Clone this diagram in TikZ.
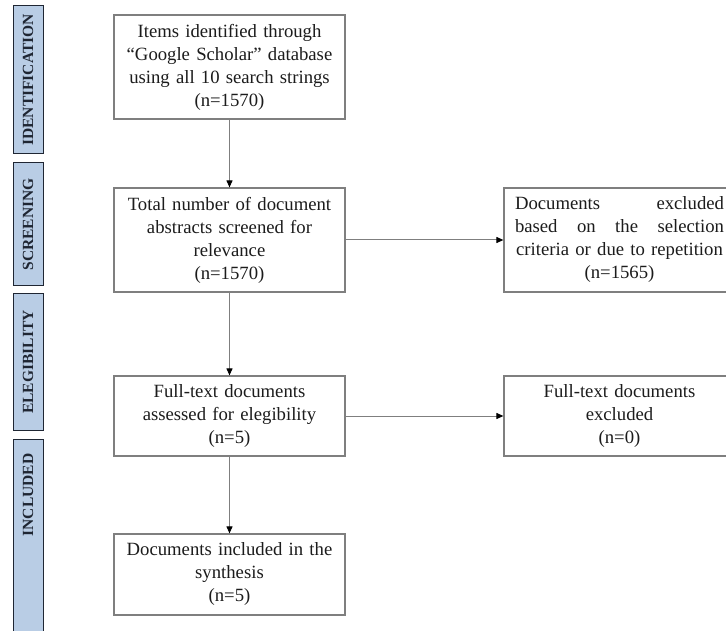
\documentclass[tikz,border=0pt]{standalone}
\usepackage{fontspec}
\setmainfont{Liberation Serif}
\usetikzlibrary{arrows.meta, positioning}
\definecolor{prismaline}{HTML}{7F7F7F}
\definecolor{prismatext}{HTML}{1C1C1C}
\definecolor{stagefill}{HTML}{B9CDE5}
\definecolor{stageedge}{HTML}{1F2633}
\tikzset{
  stepnode/.style={draw=prismaline, line width=1.2pt, minimum width=231pt, text width=226pt, align=center, inner sep=0pt, font=\fontsize{18.7}{23}\selectfont, text=prismatext},
  stagelabel/.style={draw=stageedge, fill=stagefill, line width=1pt, rotate=90, minimum height=30pt, inner sep=0pt, font=\fontsize{15.5}{18}\selectfont\bfseries, text=stageedge},
  flowline/.style={draw=prismaline, line width=1pt, -{Triangle[length=7pt, width=6pt, color=black]}}
}

\begin{document}
\begin{tikzpicture}[x=1pt, y=-1pt]
  \useasboundingbox[fill=white] (0,0) rectangle (726,631);

  % stage labels down the left margin
  \node[stagelabel, minimum width=148pt] at (28,80) (ident) {IDENTIFICATION};
  \node[stagelabel, minimum width=123pt] at (28,224.5) (screen) {SCREENING};
  \node[stagelabel, minimum width=136pt] at (28,362) (elig) {ELEGIBILITY};
  \node[stagelabel, minimum width=200pt] at (28,539) (incl) {\hspace*{88pt}INCLUDED};

  % main column
  \node[stepnode, minimum height=104pt] at (229.5,67) (found)
    {Items identified through\\ “Google Scholar” database\\ using all 10 search strings\\ (n=1570)};
  \node[stepnode, minimum height=104pt] at (229.5,240) (abstracts)
    {Total number of document\\ abstracts screened for\\ relevance\\ (n=1570)};
  \node[stepnode, minimum height=80pt] at (229.5,416) (fulltext)
    {Full-text documents\\ assessed for elegibility\\ (n=5)};
  \node[stepnode, minimum height=81pt] at (229.5,574.5) (synth)
    {Documents included in the\\ synthesis\\ (n=5)};

  % exclusions
  \node[stepnode, minimum height=104pt, text width=209pt] at (619.5,240) (dropped)
    {Documents\hfill excluded\\ based\hfill on\hfill the\hfill selection\\ criteria or due to repetition\\ (n=1565)};
  \node[stepnode, minimum height=80pt] at (619.5,416) (ftdropped)
    {Full-text documents\\ excluded\\ (n=0)};

  \draw[flowline] (found.south) -- (abstracts.north);
  \draw[flowline] (abstracts.south) -- (fulltext.north);
  \draw[flowline] (fulltext.south) -- (synth.north);
  \draw[flowline] (abstracts.east) -- (dropped.west);
  \draw[flowline] (fulltext.east) -- (ftdropped.west);
\end{tikzpicture}
\end{document}
